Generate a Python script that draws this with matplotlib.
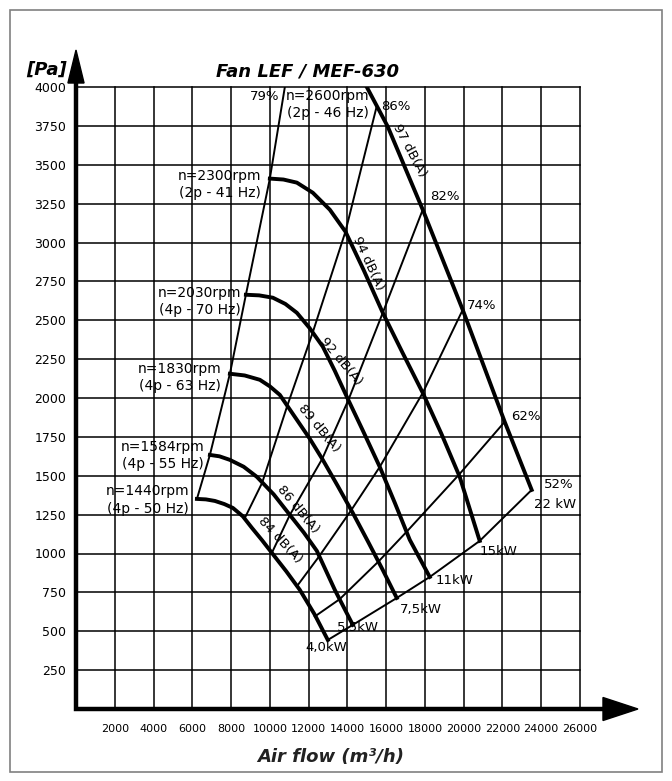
import matplotlib
matplotlib.use('Agg')
import matplotlib.pyplot as plt
from matplotlib.patches import Polygon, Rectangle

plt.rcParams['font.family'] = ['DejaVu Sans']

# ---- datos (caudal m3/h, presion Pa) ----
# curvas de velocidad (gruesas)
flow_1440 = [6238, 6700, 7165, 7650, 8093, 8600, 9073, 9600, 10104, 10850, 11547, 12300, 12990]
pres_1440 = [1351, 1348, 1338, 1318, 1293, 1240, 1165, 1085, 1004, 885, 766, 610, 444]

flow_1584 = [6908, 7400, 7939, 8650, 9331, 10200, 11032, 11750, 12424, 13352, 14279]
pres_1584 = [1634, 1625, 1602, 1558, 1493, 1380, 1248, 1135, 1017, 766, 541]

flow_1830 = [7939, 8700, 9485, 10000, 10516, 11393, 12050, 12733, 13500, 14279, 15050, 15826, 16547]
pres_1830 = [2156, 2145, 2117, 2075, 2020, 1860, 1740, 1602, 1435, 1261, 1080, 894, 714]

flow_2030 = [8764, 9450, 10155, 10800, 11393, 12050, 12733, 13350, 13970, 14800, 15671, 16450, 17218, 18249]
pres_2030 = [2664, 2660, 2645, 2605, 2548, 2450, 2330, 2175, 2008, 1790, 1557, 1325, 1088, 849]

flow_2300 = [10000, 10700, 11393, 12217, 13094, 13900, 14850, 15826, 16850, 17888, 18850, 19795, 20826]
pres_2300 = [3411, 3405, 3385, 3320, 3211, 3070, 2820, 2548, 2290, 2033, 1770, 1493, 1081]

flow_2600 = [15000, 16084, 17888, 19950, 22115, 23507]
pres_2600 = [4000, 3745, 3211, 2567, 1847, 1409]

speed_labels = ['n=1440rpm\n(4p - 50 Hz)', 'n=1584rpm\n(4p - 55 Hz)',
                'n=1830rpm\n(4p - 63 Hz)', 'n=2030rpm\n(4p - 70 Hz)',
                'n=2300rpm\n(2p - 41 Hz)', 'n=2600rpm\n(2p - 46 Hz)']

# lineas de rendimiento (finas)
flow_79 = [6238, 6908, 7939, 8764, 10000, 10774]
pres_79 = [1351, 1634, 2156, 2664, 3411, 4000]

flow_86 = [8712, 9600, 10900, 12200, 13900, 15517]
pres_86 = [1229, 1454, 1950, 2417, 3070, 3878]

flow_82 = [10104, 11032, 12700, 14050, 15826, 17888]
pres_82 = [1004, 1248, 1608, 1987, 2548, 3211]

flow_74 = [11400, 12550, 14200, 15671, 17888, 19950]
pres_74 = [790, 983, 1279, 1557, 2033, 2567]

flow_62 = [12320, 13600, 15600, 17050, 19750, 22115]
pres_62 = [595, 706, 948, 1139, 1506, 1847]

flow_52 = [12990, 14279, 16547, 18249, 20826, 23507]
pres_52 = [444, 541, 714, 849, 1081, 1409]

eff_labels = ['79%', '86%', '82%', '74%', '62%', '52%']
power_labels = ['4,0kW', '5,5kW', '7,5kW', '11kW', '15kW', '22 kW']
noise_labels = ['84 dB(A)', '86 dB(A)', '89 dB(A)', '92 dB(A)', '94 dB(A)', '97 dB(A)']

x_ticks = list(range(2000, 26001, 2000))
y_ticks = list(range(250, 4001, 250))

# ---- figura ----
fig = plt.figure(figsize=(6.72, 7.81), dpi=100, facecolor='white')
ax = fig.add_axes([76 / 672, 72 / 781, 504 / 672, 622 / 781])
ax.set_xlim(0, 26000)
ax.set_ylim(0, 4000)

ax.set_xticks(x_ticks)
ax.set_xticklabels([str(v) for v in x_ticks])
ax.set_yticks(y_ticks)
ax.set_yticklabels([str(v) for v in y_ticks])
ax.tick_params(length=0)
ax.tick_params(axis='x', labelsize=8, pad=11)
ax.tick_params(axis='y', labelsize=9, pad=7)
ax.grid(True, color='black', lw=1.1)
ax.set_axisbelow(True)
for gl in ax.get_xgridlines() + ax.get_ygridlines():
    gl.set_clip_on(False)
for s in ax.spines.values():
    s.set_visible(False)

# ejes con flechas
ax.plot([0, 0, 1.05], [1.01, 0, 0], transform=ax.transAxes, clip_on=False,
        color='black', lw=3.2, solid_joinstyle='miter', zorder=5)
ax.add_patch(Polygon([(-0.016, 1.0064), (0.016, 1.0064), (0, 1.0595)],
                     closed=True, color='black', transform=ax.transAxes, clip_on=False, zorder=5))
ax.add_patch(Polygon([(1.0456, -0.0185), (1.0456, 0.0185), (1.115, 0)],
                     closed=True, color='black', transform=ax.transAxes, clip_on=False, zorder=5))

# curvas de velocidad
speed_curves = [(flow_1440, pres_1440), (flow_1584, pres_1584), (flow_1830, pres_1830),
                (flow_2030, pres_2030), (flow_2300, pres_2300), (flow_2600, pres_2600)]
for fx, py in speed_curves:
    ax.plot(fx, py, color='black', lw=2.8, solid_joinstyle='round', zorder=4)

# lineas de rendimiento
eff_curves = [(flow_79, pres_79), (flow_86, pres_86), (flow_82, pres_82),
              (flow_74, pres_74), (flow_62, pres_62), (flow_52, pres_52)]
for fx, py in eff_curves:
    ax.plot(fx, py, color='black', lw=1.4, solid_joinstyle='round', zorder=3)

# textos de velocidad
speed_pos = [(3712, 1345), (4485, 1628), (5361, 2130), (6392, 2619), (7423, 3372), (12990, 3886)]
for txt, (x, y) in zip(speed_labels, speed_pos):
    ax.text(x, y, txt, ha='center', va='center', multialignment='center',
            fontsize=10, linespacing=1.3, zorder=6)

# textos de rendimiento
eff_pos = [(9743, 3938), (16496, 3874), (19022, 3295), (20930, 2593), (23198, 1879), (24899, 1441)]
for txt, (x, y) in zip(eff_labels, eff_pos):
    ax.text(x, y, txt, ha='center', va='center', fontsize=9.5, zorder=6)

# textos de potencia
power_pos = [(12888, 394), (14537, 521), (17785, 637), (19537, 824), (21806, 1010), (24693, 1313)]
for txt, (x, y) in zip(power_labels, power_pos):
    ax.text(x, y, txt, ha='center', va='center', fontsize=9.5, zorder=6)

# textos de ruido (giradas)
noise_pos = [(10516, 1088, -47), (11444, 1287, -50), (12527, 1808, -50),
             (13660, 2233, -50), (15104, 2864, -65), (17218, 3591, -62)]
for txt, (x, y, r) in zip(noise_labels, noise_pos):
    ax.text(x, y, txt, ha='center', va='center', rotation=r, rotation_mode='anchor',
            fontsize=9.5, zorder=6)

# titulos
fig.text(308 / 672, 1 - 72 / 781, 'Fan LEF / MEF-630', ha='center', va='center',
         fontsize=13, fontweight='bold', fontstyle='italic')
fig.text(47 / 672, 1 - 70 / 781, '[Pa]', ha='center', va='center',
         fontsize=13, fontweight='bold', fontstyle='italic')
fig.text(331 / 672, 1 - 757 / 781, 'Air flow (m³/h)', ha='center', va='center',
         fontsize=13, fontweight='bold', fontstyle='italic', color='#222222')

# marco exterior
fig.patches.append(Rectangle((10 / 672, 9 / 781), 652 / 672, 762 / 781, transform=fig.transFigure,
                             fill=False, edgecolor='#808080', lw=1.2))

fig.savefig('out.png', dpi=100, facecolor='white')
